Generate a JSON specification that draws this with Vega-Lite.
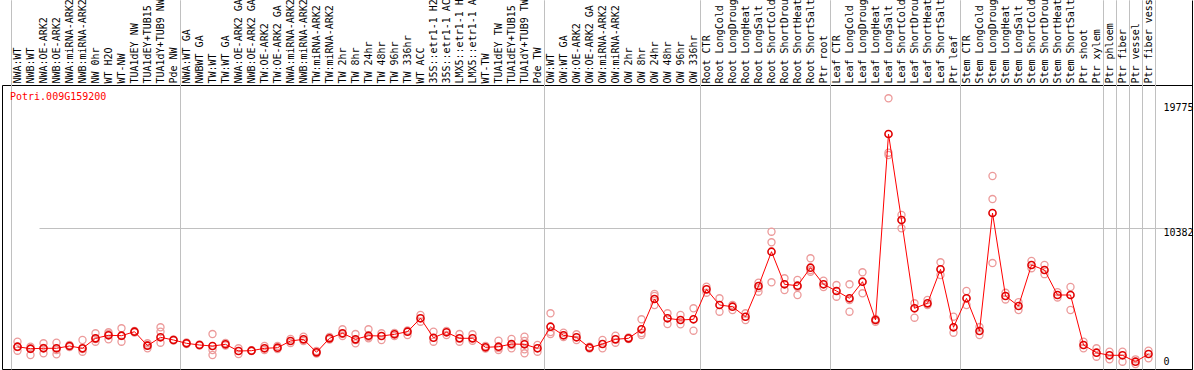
{
  "$schema": "https://vega.github.io/schema/vega-lite/v6.json",
  "autosize": {"type": "none"},
  "padding": {"left": 2, "top": 85, "right": 2, "bottom": 1},
  "width": 1190,
  "height": 284,
  "background": "white",
  "title": {"text": "Potri.009G159200", "orient": "bottom", "anchor": "start", "frame": "group", "offset": -362, "dx": 8, "baseline": "top", "color": "#ff0000", "font": "DejaVu Sans Mono", "fontSize": 10, "fontWeight": "normal"},
  "config": {"view": {"stroke": "black", "strokeWidth": 1}},
  "data": {"values": [
    {"s": "NWA:WT", "m": 1450, "r": [1826, 1150, 1428]},
    {"s": "NWB:WT", "m": 1300, "r": [1450, 827, 1277]},
    {"s": "NWA:OE-ARK2", "m": 1330, "r": [1706, 954, 1352]},
    {"s": "NWB:OE-ARK2", "m": 1330, "r": [1751, 879, 1202]},
    {"s": "NWA:miRNA-ARK2", "m": 1503, "r": [1578, 1428]},
    {"s": "NWB:miRNA-ARK2", "m": 1330, "r": [1954, 1075, 1277]},
    {"s": "NW 0hr", "m": 2081, "r": [2457, 1826, 2029]},
    {"s": "WT H2O", "m": 2307, "r": [2532, 2006, 2404]},
    {"s": "WT-NW", "m": 2277, "r": [2833, 1826, 2254]},
    {"s": "TUA1dEY NW", "m": 2577, "r": [2630, 2517]},
    {"s": "TUA1dEY+TUB15 NW", "m": 1525, "r": [1706, 1330, 1578]},
    {"s": "TUA1dY+TUB9 NW", "m": 2157, "r": [2908, 2577, 1751]},
    {"s": "Pde NW", "m": 1954, "r": [1991, 1916]},
    {"s": "NWA:WT GA", "m": 1706, "r": [1766, 1653]},
    {"s": "NWBWT GA", "m": 1578, "r": [1616, 1540]},
    {"s": "TW:WT", "m": 1503, "r": [2404, 827, 1202]},
    {"s": "TW:WT GA", "m": 1631, "r": [1728, 1540]},
    {"s": "NWA:OE-ARK2 GA", "m": 1127, "r": [1330, 902]},
    {"s": "NWB:OE-ARK2 GA", "m": 1150, "r": [1180, 1120]},
    {"s": "TW:OE-ARK2", "m": 1330, "r": [1503, 1202]},
    {"s": "TW:OE-ARK2 GA", "m": 1375, "r": [1503, 1277]},
    {"s": "NWA:miRNA-ARK2 GA", "m": 1879, "r": [2029, 1728]},
    {"s": "NWB:miRNA-ARK2 GA", "m": 2006, "r": [2202, 1879]},
    {"s": "TW:miRNA-ARK2", "m": 1029, "r": [1127, 939]},
    {"s": "TW:miRNA-ARK2 GA", "m": 2081, "r": [2179, 1991]},
    {"s": "TW 2hr", "m": 2457, "r": [2758, 2254, 2404]},
    {"s": "TW 8hr", "m": 2006, "r": [2404, 1706, 1954]},
    {"s": "TW 24hr", "m": 2277, "r": [2758, 2081, 2179]},
    {"s": "TW 48hr", "m": 2254, "r": [2457, 1954]},
    {"s": "TW 96hr", "m": 2382, "r": [2480, 2254]},
    {"s": "TW 336hr", "m": 2577, "r": [2329, 2667]},
    {"s": "WT ACC", "m": 3584, "r": [3832, 3329]},
    {"s": "35S::etr1-1 H2O", "m": 2126, "r": [2577, 1826]},
    {"s": "35S::etr1-1 ACC", "m": 2532, "r": [2329, 2630]},
    {"s": "LMX5::etr1-1 H2O", "m": 2081, "r": [2404, 1826]},
    {"s": "LMX5::etr1-1 ACC", "m": 2081, "r": [2382, 1901]},
    {"s": "WT-TW", "m": 1405, "r": [1503, 1315]},
    {"s": "TUA1dEY TW", "m": 1450, "r": [1901, 1202, 1352]},
    {"s": "TUA1dEY+TUB15 TW", "m": 1653, "r": [2029, 1330, 1578]},
    {"s": "TUA1dY+TUB9 TW", "m": 1631, "r": [2202, 1255, 954, 1879]},
    {"s": "Pde TW", "m": 1330, "r": [1578, 1075]},
    {"s": "OW:WT", "m": 2953, "r": [3960, 2404, 2555]},
    {"s": "OW:WT GA", "m": 2307, "r": [2502, 2179]},
    {"s": "OW:OE-ARK2", "m": 2157, "r": [2382, 1954]},
    {"s": "OW:OE-ARK2 GA", "m": 1375, "r": [1450, 1315]},
    {"s": "OW:miRNA-ARK2", "m": 1653, "r": [1954, 1330]},
    {"s": "OW:miRNA-ARK2 GA", "m": 2006, "r": [2277, 1751]},
    {"s": "OW 2hr", "m": 2081, "r": [2141, 2029]},
    {"s": "OW 8hr", "m": 2758, "r": [3509, 2329, 2480]},
    {"s": "OW 24hr", "m": 5034, "r": [5410, 4584, 5260]},
    {"s": "OW 48hr", "m": 3584, "r": [3960, 3156]},
    {"s": "OW 96hr", "m": 3456, "r": [3832, 3133]},
    {"s": "OW 336hr", "m": 3509, "r": [4336, 2652]},
    {"s": "Root CTR", "m": 5763, "r": [5959, 5508]},
    {"s": "Root LongCold", "m": 4584, "r": [5087, 4080]},
    {"s": "Root LongDrought", "m": 4456, "r": [4584, 4208]},
    {"s": "Root LongHeat", "m": 3704, "r": [3960, 3456]},
    {"s": "Root LongSalt", "m": 6011, "r": [6259, 5583, 5861]},
    {"s": "Root ShortCold", "m": 8589, "r": [10091, 9295, 6289]},
    {"s": "Root ShortDrought", "m": 6139, "r": [6590, 5711]},
    {"s": "Root ShortHeat", "m": 6034, "r": [6462, 5335, 5936]},
    {"s": "Root ShortSalt", "m": 7386, "r": [8093, 7086, 7213]},
    {"s": "Ptr root", "m": 6139, "r": [6410, 5936]},
    {"s": "Leaf CTR", "m": 5636, "r": [6086, 5207]},
    {"s": "Leaf LongCold", "m": 5087, "r": [6139, 4080, 4959]},
    {"s": "Leaf LongDrought", "m": 6334, "r": [7041, 5463]},
    {"s": "Leaf LongHeat", "m": 3456, "r": [3329, 3532]},
    {"s": "Leaf LongSalt", "m": 17432, "r": [20115, 16028, 15855]},
    {"s": "Leaf ShortCold", "m": 10970, "r": [11346, 10347]},
    {"s": "Leaf ShortDrought", "m": 4336, "r": [4711, 3629]},
    {"s": "Leaf ShortHeat", "m": 4711, "r": [4959, 4584]},
    {"s": "Leaf ShortSalt", "m": 7266, "r": [7792, 6838]},
    {"s": "Ptr leaf", "m": 2908, "r": [3704, 2502]},
    {"s": "Stem CTR", "m": 5087, "r": [5636, 4584]},
    {"s": "Stem LongCold", "m": 2630, "r": [2930, 2329]},
    {"s": "Stem LongDrought", "m": 11496, "r": [14277, 12548, 7739]},
    {"s": "Stem LongHeat", "m": 5260, "r": [5500, 5000]},
    {"s": "Stem LongSalt", "m": 4508, "r": [4800, 4200]},
    {"s": "Stem ShortCold", "m": 7589, "r": [7900, 7350]},
    {"s": "Stem ShortDrought", "m": 7213, "r": [7600, 6900]},
    {"s": "Stem ShortHeat", "m": 5335, "r": [5550, 5150]},
    {"s": "Stem ShortSalt", "m": 5335, "r": [5936, 4208]},
    {"s": "Ptr shoot", "m": 1578, "r": [1826, 1330]},
    {"s": "Ptr xylem", "m": 999, "r": [1330, 699]},
    {"s": "Ptr phloem", "m": 804, "r": [1075, 503]},
    {"s": "Ptr fiber", "m": 804, "r": [1075, 323]},
    {"s": "Ptr vessel", "m": 323, "r": [503, 150]},
    {"s": "Ptr fiber vessel", "m": 902, "r": [1150, 579]}
  ]},
  "encoding": {
    "x": {
      "field": "s", "type": "nominal", "sort": null,
      "scale": {"type": "band", "paddingInner": 0, "paddingOuter": 0, "range": [9, 1153]},
      "axis": {
        "orient": "top", "title": null, "labelAngle": 270, "labelAlign": "left", "labelBaseline": "middle",
        "labelFont": "DejaVu Sans Mono", "labelFontSize": 10, "labelColor": "black", "labelOverlap": false, "labelLimit": 0,
        "labelPadding": -83, "domain": false,
        "ticks": true, "tickBand": "extent", "tickSize": 85, "tickColor": "#c0c0c0", "tickWidth": 1,
        "tickOpacity": {"condition": {"test": "datum.extra || datum.value === 'Pde NW' || datum.value === 'Pde TW' || datum.value === 'OW 336hr' || datum.value === 'Ptr root' || datum.value === 'Ptr leaf' || datum.value === 'Ptr xylem' || datum.value === 'Ptr phloem' || datum.value === 'Ptr fiber' || datum.value === 'Ptr vessel' || datum.value === 'Ptr fiber vessel'", "value": 1}, "value": 0},
        "grid": true, "gridColor": "#c0c0c0", "gridWidth": 1,
        "gridOpacity": {"condition": {"test": "datum.extra || datum.value === 'Pde NW' || datum.value === 'Pde TW' || datum.value === 'OW 336hr' || datum.value === 'Ptr root' || datum.value === 'Ptr leaf' || datum.value === 'Ptr xylem' || datum.value === 'Ptr phloem' || datum.value === 'Ptr fiber' || datum.value === 'Ptr vessel' || datum.value === 'Ptr fiber vessel'", "value": 1}, "value": 0}
      }
    }
  },
  "layer": [
    {
      "transform": [{"flatten": ["r"]}],
      "mark": {"type": "point", "shape": "circle", "filled": false, "size": 50, "stroke": "#ec9a9a", "strokeWidth": 1.3, "opacity": 1},
      "encoding": {
        "y": {
          "field": "r", "type": "quantitative",
          "scale": {"domain": [-225, 27502], "range": [284, -85], "nice": false, "zero": false},
          "axis": {
            "orient": "right", "title": null, "values": [0, 10382, 19775], "format": "d",
            "domain": true, "domainColor": "black", "domainWidth": 1, "ticks": false, "tickSize": 0,
            "labelAlign": "left", "labelPadding": -29,
            "labelBaseline": {"condition": {"test": "datum.value === 0", "value": "bottom"}, "value": "top"},
            "labelFont": "DejaVu Sans Mono", "labelFontSize": 10, "labelColor": "black",
            "grid": true, "gridColor": "#c0c0c0", "gridWidth": 1,
            "gridOpacity": {"condition": {"test": "datum.value === 10382", "value": 1}, "value": 0}
          }
        }
      }
    },
    {
      "mark": {"type": "line", "color": "#ff0000", "strokeWidth": 1},
      "encoding": {"y": {"field": "m", "type": "quantitative"}}
    },
    {
      "mark": {"type": "point", "shape": "circle", "filled": false, "size": 50, "stroke": "#e00000", "strokeWidth": 1.6, "opacity": 1},
      "encoding": {"y": {"field": "m", "type": "quantitative"}}
    }
  ]
}
